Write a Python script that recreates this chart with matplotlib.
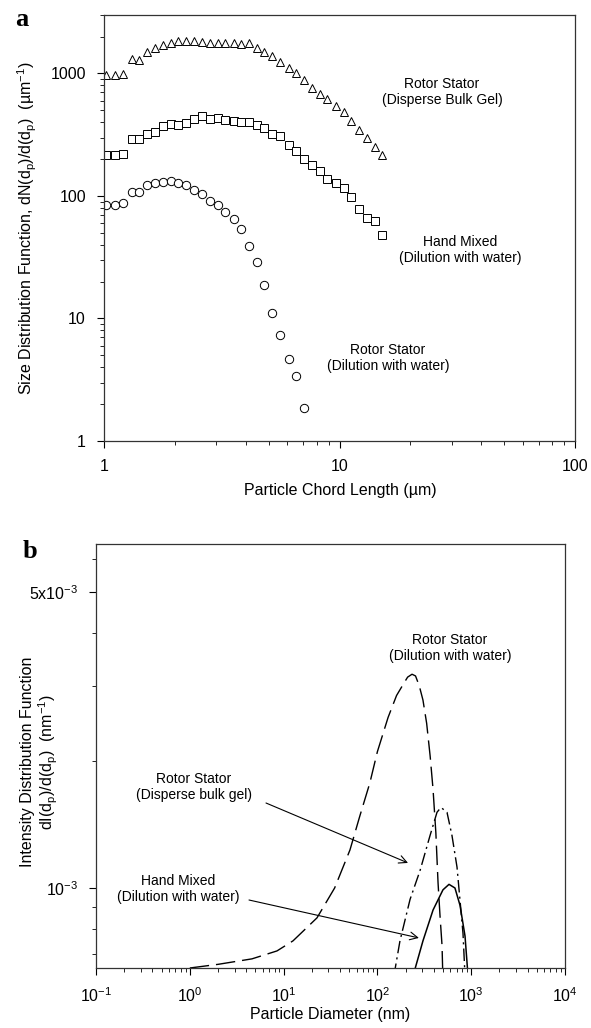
import matplotlib
matplotlib.use("Agg")
import matplotlib.pyplot as plt
from matplotlib.ticker import LogLocator, FixedLocator, NullFormatter

plt.rcParams['font.family'] = ['Liberation Sans', 'DejaVu Sans']
plt.rcParams['mathtext.fontset'] = 'custom'
plt.rcParams['mathtext.rm'] = 'Liberation Sans'
plt.rcParams['mathtext.it'] = 'Liberation Sans:italic'
plt.rcParams['mathtext.default'] = 'regular'

# ---------------- Panel a data ----------------
chord_um = [1.02, 1.11, 1.21, 1.31, 1.41, 1.52, 1.65, 1.78, 1.92, 2.07, 2.24, 2.41,
            2.61, 2.82, 3.04, 3.28, 3.55, 3.83, 4.13, 4.46, 4.80, 5.17, 5.61, 6.08,
            6.53, 7.06, 7.63, 8.23, 8.87, 9.62, 10.4, 11.2, 12.1, 13.1, 14.1, 15.2]
rs_bulk_gel = [963, 963, 981, 1318, 1285, 1503, 1610, 1716, 1781, 1849, 1849, 1836,
               1802, 1781, 1781, 1781, 1781, 1725, 1758, 1610, 1503, 1384, 1247, 1104,
               1000, 882, 759, 674, 622, 541, 487, 411, 345, 299, 250, 218]
hand_mixed = [215, 218, 222, 294, 293, 322, 332, 372, 384, 378, 396, 421,
              448, 421, 430, 416, 408, 400, 400, 377, 361, 318, 308, 260,
              232, 202, 178, 159, 138, 128, 117, 98, 79, 66, 62, 48]
rs_water = [85, 85, 87, 108, 107, 122, 127, 130, 132, 128, 122, 111,
            104, 91, 84, 74, 65, 54, 39, 29, 18.6, 11.1, 7.4, 4.7, 3.4, 1.87]

# ---------------- Panel b data ----------------
rsw_d = [1.0, 2.0, 4.6, 8.5, 12.6, 22.7, 35, 51, 65, 83, 100, 130, 160, 192, 210,
         234, 255, 280, 306, 335, 365, 392, 420, 443, 465, 489, 500]
rsw_i = [6.47e-4, 6.6e-4, 6.8e-4, 7.1e-4, 7.5e-4, 8.5e-4, 1.0e-3, 1.23e-3, 1.48e-3,
         1.77e-3, 2.1e-3, 2.53e-3, 2.85e-3, 3.05e-3, 3.15e-3, 3.2e-3, 3.17e-3, 3.0e-3,
         2.78e-3, 2.45e-3, 2.05e-3, 1.71e-3, 1.35e-3, 1.03e-3, 8.6e-4, 7.3e-4, 6.0e-4]
gel_d = [150, 174, 223, 285, 364, 432, 476, 552, 624, 706, 818, 859]
gel_i = [6.2e-4, 7.5e-4, 9.4e-4, 1.1e-3, 1.33e-3, 1.51e-3, 1.55e-3, 1.51e-3, 1.33e-3,
         1.12e-3, 7.8e-4, 6.2e-4]
hm_d = [240, 306, 392, 500, 580, 671, 760, 859, 925]
hm_i = [6.2e-4, 7.5e-4, 8.87e-4, 9.9e-4, 1.02e-3, 1.0e-3, 9.1e-4, 7.7e-4, 6.2e-4]

W, H = 591, 1028
fig = plt.figure(figsize=(W / 100, H / 100), dpi=100)

def fx(px):
    return px / W

def fy(py):
    return 1 - py / H

spine_c = '#333333'
tick_fs = 11.5
lab_fs = 11.5
ann_fs = 10

# ---------------- Panel a ----------------
axa = fig.add_axes([fx(104), fy(441), fx(575) - fx(104), fy(15) - fy(441)])
mk = dict(linestyle='none', markerfacecolor='white', markeredgecolor='black',
          markersize=6, markeredgewidth=0.7)
axa.plot(chord_um, rs_bulk_gel, marker='^', **mk)
axa.plot(chord_um, hand_mixed, marker='s', **mk)
axa.plot(chord_um[:len(rs_water)], rs_water, marker='o', **mk)
axa.set_xscale('log')
axa.set_yscale('log')
axa.set_xlim(1, 100)
axa.set_ylim(1, 3000)
axa.set_xticks([1, 10, 100])
axa.set_xticklabels(['1', '10', '100'])
axa.set_yticks([1, 10, 100, 1000])
axa.set_yticklabels(['1', '10', '100', '1000'])
axa.xaxis.set_minor_locator(LogLocator(base=10, subs=range(2, 10)))
axa.yaxis.set_minor_locator(LogLocator(base=10, subs=range(2, 10)))
axa.xaxis.set_minor_formatter(NullFormatter())
axa.yaxis.set_minor_formatter(NullFormatter())
axa.tick_params(which='major', direction='out', length=5, width=0.8, labelsize=tick_fs, pad=8)
axa.tick_params(which='minor', direction='out', length=3, width=0.6)
axa.tick_params(top=False, right=False, which='both')
for s in axa.spines.values():
    s.set_color(spine_c)
    s.set_linewidth(0.9)
fig.text(fx(340), fy(490), 'Particle Chord Length (µm)', ha='center', va='center', fontsize=lab_fs)
fig.text(fx(27), fy(228), r'Size Distribution Function, dN(d$_p$)/d(d$_p$)  (µm$^{-1}$)',
         ha='center', va='center', rotation=90, fontsize=lab_fs)

fig.text(fx(442), fy(92), 'Rotor Stator\n(Disperse Bulk Gel)', ha='center', va='center',
         fontsize=ann_fs, linespacing=1.15)
fig.text(fx(460), fy(250), 'Hand Mixed\n(Dilution with water)', ha='center', va='center',
         fontsize=ann_fs, linespacing=1.15)
fig.text(fx(388), fy(358), 'Rotor Stator\n(Dilution with water)', ha='center', va='center',
         fontsize=ann_fs, linespacing=1.15)
fig.text(fx(22), fy(19), 'a', ha='center', va='center', fontsize=19, fontweight='bold',
         family='Liberation Serif')

# ---------------- Panel b ----------------
axb = fig.add_axes([fx(96), fy(968), fx(565) - fx(96), fy(544) - fy(968)])
axb.plot(rsw_d, rsw_i, color='black', lw=1.0, dashes=(14, 5))
axb.plot(gel_d, gel_i, color='black', lw=1.0, dashes=(9, 3, 1.5, 3))
axb.plot(hm_d, hm_i, color='black', lw=1.1, linestyle='-')
axb.set_xscale('log')
axb.set_yscale('log')
axb.set_xlim(0.1, 1e4)
axb.set_ylim(6.47e-4, 6.5e-3)
axb.set_xticks([0.1, 1, 10, 100, 1000, 10000])
axb.set_xticklabels([r'$10^{-1}$', r'$10^{0}$', r'$10^{1}$', r'$10^{2}$', r'$10^{3}$', r'$10^{4}$'])
axb.set_yticks([1e-3, 5e-3])
axb.set_yticklabels([r'$10^{-3}$', r'$5x10^{-3}$'])
axb.yaxis.set_minor_locator(FixedLocator([7e-4, 8e-4, 9e-4, 2e-3, 3e-3, 4e-3, 6e-3]))
axb.yaxis.set_minor_formatter(NullFormatter())
axb.xaxis.set_minor_locator(LogLocator(base=10, subs=range(2, 10)))
axb.xaxis.set_minor_formatter(NullFormatter())
axb.tick_params(which='major', direction='out', length=5, width=0.8, labelsize=tick_fs, pad=8)
axb.tick_params(which='minor', direction='out', length=3, width=0.6)
axb.tick_params(top=False, right=False, which='both')
for s in axb.spines.values():
    s.set_color(spine_c)
    s.set_linewidth(0.9)
fig.text(fx(330), fy(1015), 'Particle Diameter (nm)', ha='center', va='center', fontsize=lab_fs)
fig.text(fx(40), fy(762), 'Intensity Distribution Function\n' + r'dI(d$_p$)/d(d$_p$)  (nm$^{-1}$)',
         ha='center', va='center', rotation=90, fontsize=lab_fs, linespacing=1.05)

fig.text(fx(450), fy(648), 'Rotor Stator\n(Dilution with water)', ha='center', va='center',
         fontsize=ann_fs, linespacing=1.15)
fig.text(fx(194), fy(787), 'Rotor Stator\n(Disperse bulk gel)', ha='center', va='center',
         fontsize=ann_fs, linespacing=1.15)
fig.text(fx(178), fy(889), 'Hand Mixed\n(Dilution with water)', ha='center', va='center',
         fontsize=ann_fs, linespacing=1.15)
arrow = dict(arrowstyle='->', color='black', lw=0.8, mutation_scale=14, shrinkA=0, shrinkB=0)
axb.annotate('', xy=(212, 1.146e-3), xycoords='data',
             xytext=(fx(266), fy(803)), textcoords='figure fraction', arrowprops=arrow)
axb.annotate('', xy=(277, 7.62e-4), xycoords='data',
             xytext=(fx(249), fy(900)), textcoords='figure fraction', arrowprops=arrow)
fig.text(fx(30), fy(551), 'b', ha='center', va='center', fontsize=19, fontweight='bold',
         family='Liberation Serif')

fig.savefig('out.png', dpi=100)
